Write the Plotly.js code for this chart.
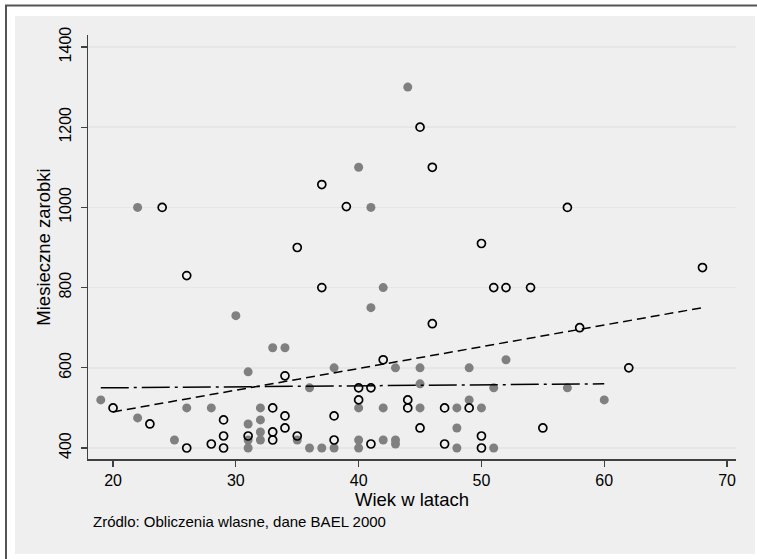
<!DOCTYPE html>
<html>
<head>
<meta charset="utf-8">
<script src="https://cdn.plot.ly/plotly-3.0.1.min.js"></script>
<style>
html,body{margin:0;padding:0;background:#ffffff;width:757px;height:559px;overflow:hidden;}
#chart{position:absolute;left:0;top:0;width:757px;height:559px;}
</style>
</head>
<body>
<div id="chart"></div>
<script>
// Filled (grey) group
const filledAge  = [19,22,22,25,26,28,30,31,31,31,31,32,32,32,32,33,34,35,36,36,37,38,38,40,40,40,40,41,41,42,42,42,43,43,43,44,45,45,45,48,48,48,49,49,50,51,51,52,57,60];
const filledWage = [520,1000,475,420,500,500,730,590,460,420,400,500,470,440,420,650,650,420,550,400,400,600,400,1100,500,420,400,1000,750,800,500,420,600,420,410,1300,600,560,500,500,450,400,600,520,500,550,400,620,550,520];
// Hollow group
const hollowAge  = [20,23,24,26,26,28,29,29,29,31,33,33,33,34,34,34,35,35,37,37,38,38,39,40,40,41,41,42,44,44,45,45,46,46,47,47,49,50,50,50,51,52,54,55,57,58,62,68];
const hollowWage = [500,460,1000,830,400,410,470,430,400,430,500,440,420,580,480,450,900,430,1057,800,480,420,1002,550,520,550,410,620,520,500,1200,450,1100,710,500,410,500,910,430,400,800,800,800,450,1000,700,600,850];
// Fitted lines (endpoints)
const fitHollowX = [20,68];
const fitHollowY = [490,750];
const fitFilledX = [19,60];
const fitFilledY = [550,560];
// Axis ticks
const xTicks = [20,30,40,50,60,70];
const yTicks = [400,600,800,1000,1200,1400];

const FONT = 'Liberation Sans, Arial, Helvetica, sans-serif';

// plot area in page pixels: x 88..736, y 35..459
const L = 88, R = 736, T = 35, B = 459;
const px = v => (v - L) / (R - L);
const py = v => (B - v) / (B - T);

const traces = [
  {x: filledAge, y: filledWage, type:'scatter', mode:'markers',
   marker:{symbol:'circle', size:9, color:'#808080', line:{width:0}}, hoverinfo:'skip'},
  {x: hollowAge, y: hollowWage, type:'scatter', mode:'markers',
   marker:{symbol:'circle-open', size:8, color:'#000000', line:{width:1.7, color:'#000000'}}, hoverinfo:'skip'},
  {x: fitHollowX, y: fitHollowY, type:'scatter', mode:'lines',
   line:{color:'#000000', width:1.5, dash:'9px,5px'}, hoverinfo:'skip'},
  {x: fitFilledX, y: fitFilledY, type:'scatter', mode:'lines',
   line:{color:'#000000', width:1.5, dash:'28px,5px,3px,5px'}, hoverinfo:'skip'}
];

const layout = {
  width:757, height:559,
  margin:{l:L, r:757-R, t:T, b:559-B, pad:0},
  paper_bgcolor:'#ffffff',
  plot_bgcolor:'#ffffff',
  showlegend:false,
  font:{family:FONT, color:'#000000', size:16},
  xaxis:{
    range:[17.96,70.73], tickvals:xTicks, ticktext:xTicks.map(String),
    showgrid:false, zeroline:false,
    showline:true, linecolor:'#404040', linewidth:1.5, mirror:false,
    ticks:'outside', ticklen:6, tickwidth:1.2, tickcolor:'#404040',
    tickfont:{family:FONT, size:16, color:'#000'},
    title:{text:'Wiek w latach', font:{family:FONT, size:18.5, color:'#000'}, standoff:2}
  },
  yaxis:{
    range:[372.6,1429.9], tickvals:yTicks, ticktext:yTicks.map(String),
    showgrid:true, gridcolor:'#e6e6e6', gridwidth:1.5, zeroline:false,
    showline:true, linecolor:'#404040', linewidth:1.5, mirror:false,
    ticks:'outside', ticklen:6, tickwidth:1.2, tickcolor:'#404040',
    tickangle:-90, ticklabelstandoff:3,
    tickfont:{family:FONT, size:16, color:'#000'},
    title:{text:'Miesieczne zarobki', font:{family:FONT, size:18.5, color:'#000'}, standoff:1}
  },
  shapes:[
    // grey graph region
    {type:'rect', xref:'paper', yref:'paper', layer:'below',
     x0:px(15), x1:px(755), y0:py(554), y1:py(16),
     fillcolor:'#efefef', line:{width:0}},
    // outer frame lines (left and top)
    {type:'line', xref:'paper', yref:'paper', layer:'below',
     x0:px(6), x1:px(6), y0:py(559), y1:py(5), line:{color:'#555555', width:2}},
    {type:'line', xref:'paper', yref:'paper', layer:'below',
     x0:px(5), x1:px(757), y0:py(5.5), y1:py(5.5), line:{color:'#555555', width:2}}
  ],
  annotations:[
    {text:'Zródlo: Obliczenia wlasne, dane BAEL 2000', xref:'paper', yref:'paper',
     x:px(91), y:py(521), xanchor:'left', yanchor:'middle', showarrow:false,
     font:{family:FONT, size:15, color:'#000'}}
  ]
};

Plotly.newPlot('chart', traces, layout, {staticPlot:true, displayModeBar:false});
</script>
</body>
</html>
